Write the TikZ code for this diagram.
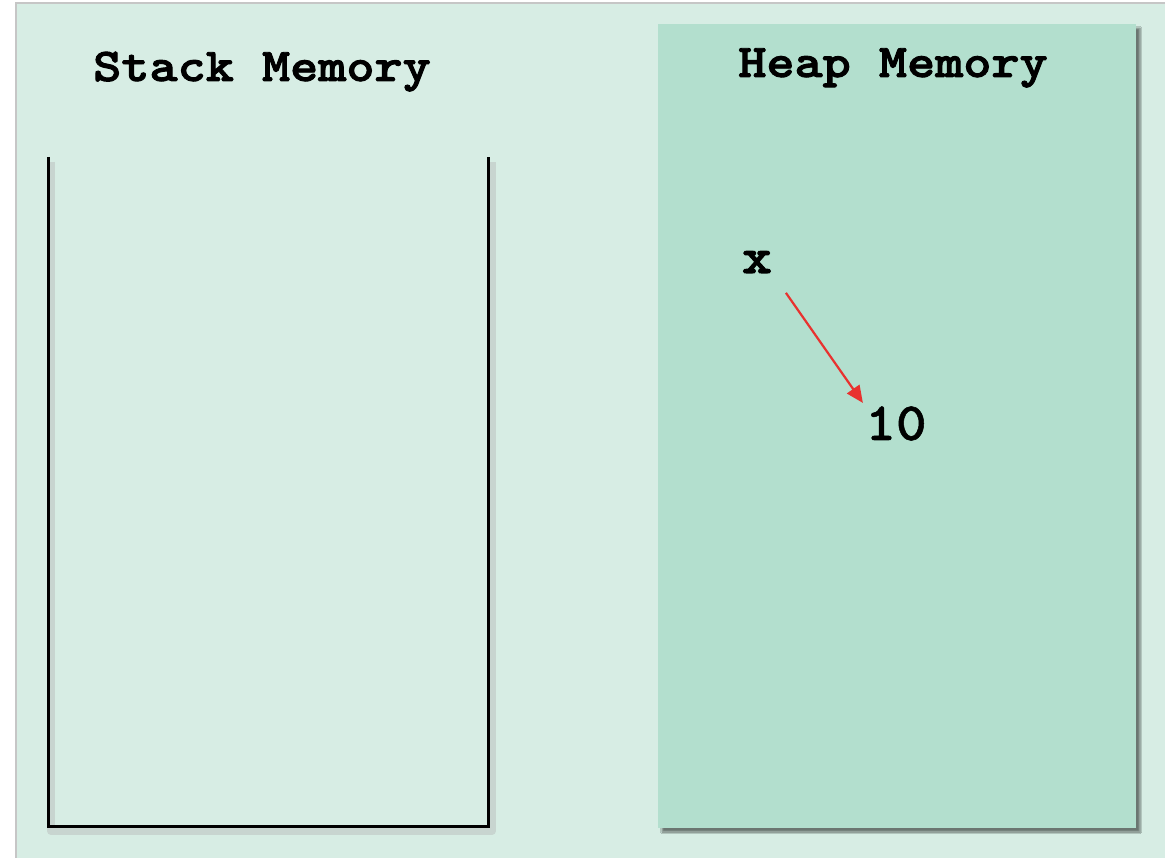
\documentclass[tikz,border=0pt]{standalone}
\usepackage{fontspec}
\newfontfamily\codefont{lmmonolt10-bold.otf}[FakeStretch=1.14,FakeBold=2]
\newfontfamily\valfont{lmmonolt10-bold.otf}[FakeStretch=1.08,FakeBold=1]
\usetikzlibrary{arrows.meta,shadows.blur}

\definecolor{pagemint}{HTML}{D7EDE4}
\definecolor{heapmint}{HTML}{B3DFCE}
\definecolor{ptrred}{HTML}{E8322F}

\tikzset{
  title/.style={font=\codefont\fontsize{47}{52}\selectfont, inner sep=0pt, anchor=base},
  cell/.style={font=\codefont\fontsize{50}{55}\selectfont, inner sep=0pt, anchor=base},
  value/.style={font=\valfont\fontsize{54}{60}\selectfont, inner sep=0pt, anchor=base},
  pointer/.style={-{Triangle[length=17pt,width=15pt]}, line width=2.2pt, ptrred}
}

\begin{document}
\begin{tikzpicture}[x=1pt,y=-1pt]
    \useasboundingbox (0,0) rectangle (1165,858);

    % sfondo
    \fill[white] (0,0) rectangle (1165,858);
    \fill[pagemint] (16,3) rectangle (1165,858);
    \draw[gray!45, line width=1.5pt] (16,858) -- (16,3) -- (1165,3);

    % heap
    \fill[heapmint, blur shadow={shadow xshift=4pt, shadow yshift=-4pt, shadow blur steps=6, shadow opacity=50}]
        (658,24) rectangle (1136,828);

    % stack (ombra e contenitore)
    \draw[black!30, opacity=0.4, line width=8pt, line join=round] (51,162) -- (51,831) -- (492,831) -- (492,162);
    \draw[black, line width=3pt] (48,157) -- (48,826) -- (488,826) -- (488,157);

    % titoli
    \node[title] (stacktitle) at (262,81) {Stack Memory};
    \node[title] (heaptitle) at (893,77) {Heap Memory};

    % variabile e valore
    \node[cell] (xvar) at (757,273) {x};
    \node[value] (xval) at (896,440) {10};
    \draw[pointer, shorten <=24pt, shorten >=4pt] (xvar.south east) -- (xval.north west);
\end{tikzpicture}
\end{document}
